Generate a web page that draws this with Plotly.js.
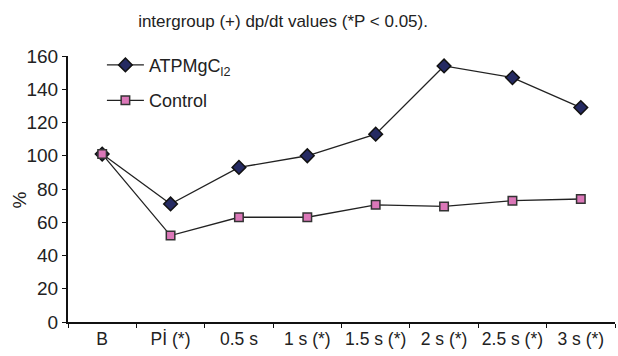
<!DOCTYPE html>
<html>
<head>
<meta charset="utf-8">
<script src="https://cdn.plot.ly/plotly-3.0.1.min.js"></script>
<style>html,body{margin:0;padding:0;background:#fff;}#chart{width:618px;height:356px;}</style>
</head>
<body>
<div id="chart"></div>
<script>
const categories = ["B", "Pİ (*)", "0.5 s", "1 s (*)", "1.5 s (*)", "2 s (*)", "2.5 s (*)", "3 s (*)"];
const atpValues = [101, 71, 93, 100, 113, 154, 147, 129];
const controlValues = [101, 52, 63, 63, 70.5, 69.5, 73, 74];
const seriesNames = ["ATPMgC<sub>l2</sub>", "Control"];
const yTicks = [0, 20, 40, 60, 80, 100, 120, 140, 160];
const yTitle = "%";

const fontFam = "Liberation Sans, Arial, sans-serif";
const traces = [
  {
    x: categories, y: atpValues, name: seriesNames[0], type: "scatter", mode: "lines+markers",
    legendgroup: "a",
    line: {color: "#222", width: 1.3},
    marker: {symbol: "diamond", size: 10.5, color: "#252a62", line: {color: "#111", width: 1.5}}
  },
  {
    x: categories, y: controlValues, name: seriesNames[1], type: "scatter", mode: "lines+markers",
    legendgroup: "b",
    line: {color: "#222", width: 1.3},
    marker: {symbol: "square", size: 8.5, color: "#db77b8", line: {color: "#333", width: 1.5}}
  }
];
const layout = {
  width: 618, height: 356,
  margin: {l: 68, r: 3, t: 56, b: 34},
  paper_bgcolor: "#fff", plot_bgcolor: "#fff",
  font: {family: fontFam, color: "#222", size: 18},
  title: {text: "intergroup (+) dp/dt values (*P < 0.05).", x: 0.458, xanchor: "center", y: 0.94, yanchor: "middle",
          font: {family: fontFam, size: 17, color: "#222"}},
  showlegend: true,
  legend: {x: 0.062, y: 1.035, xanchor: "left", yanchor: "top", bgcolor: "rgba(0,0,0,0)", itemwidth: 37,
           font: {family: fontFam, size: 18, color: "#222"}, tracegroupgap: 9, traceorder: "grouped"},
  xaxis: {
    type: "category", range: [-0.5, 7.5], showgrid: false, zeroline: false,
    showline: true, linecolor: "#111", linewidth: 2,
    ticks: "outside", ticklen: 4, tickcolor: "#111", tickwidth: 1,
    tickson: "boundaries", tickangle: 0, automargin: false,
    tickfont: {family: fontFam, size: 17.5, color: "#222"}
  },
  yaxis: {
    range: [0, 160], tickvals: yTicks, showgrid: false, zeroline: false,
    showline: true, linecolor: "#111", linewidth: 2,
    ticks: "outside", ticklen: 4, tickcolor: "#111", tickwidth: 1, automargin: false,
    tickfont: {family: fontFam, size: 19, color: "#222"}
  },
  annotations: [
    {text: yTitle, xref: "paper", yref: "paper", x: -0.088, y: 0.46, xanchor: "center", yanchor: "middle",
     textangle: -90, showarrow: false, font: {family: fontFam, size: 19, color: "#222"}}
  ]
};
Plotly.newPlot("chart", traces, layout, {staticPlot: true, displayModeBar: false});
</script>
</body>
</html>
